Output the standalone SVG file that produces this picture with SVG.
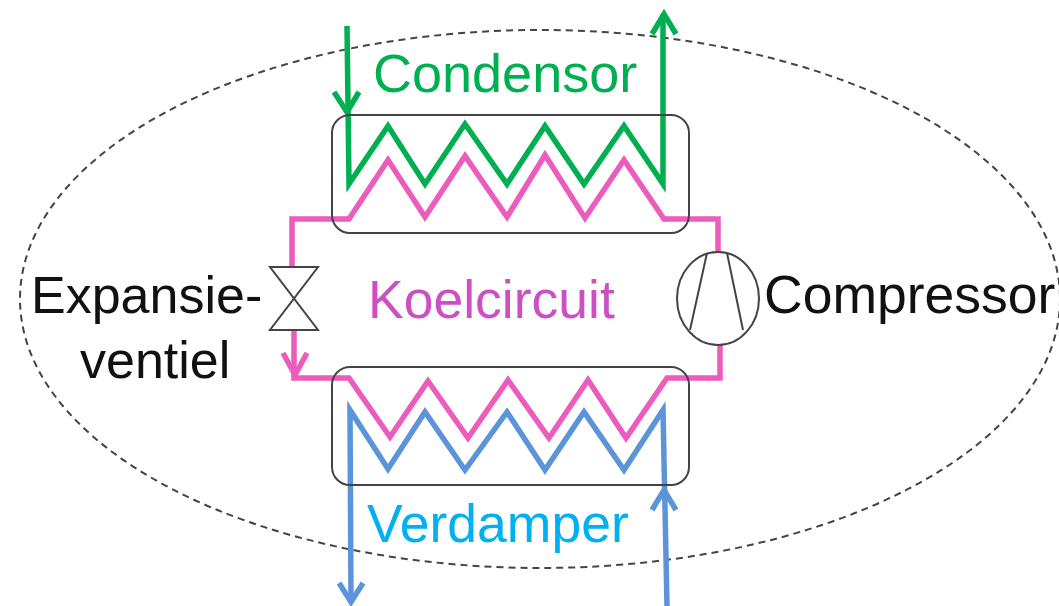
<svg xmlns="http://www.w3.org/2000/svg" width="1059" height="606" viewBox="0 0 1059 606">
<style>
text{font-family:"Liberation Sans",Arial,sans-serif;font-size:53.5px}
.pipe{fill:none;stroke-width:5.5;stroke-linejoin:miter}
.g{stroke:#00b050}.p{stroke:#ec5cbc}.b{stroke:#5b94d9}
.k{fill:none;stroke:#444;stroke-width:2}
</style>
<rect width="1059" height="606" fill="#fff"/>
<g id="boundary"><ellipse cx="540" cy="299" rx="520" ry="269" fill="none" stroke="#444" stroke-width="2" stroke-dasharray="7 5"/></g>
<g id="connectors">
<path class="pipe g" d="M347 26L349 184L388 126L425 184L465 124L507 184L545 126L584 184L624 126L663 184V14"/>
<path class="pipe g" d="M334 92L347 112L359 92M652 34L664 14L676 34"/>
<path class="pipe p" d="M292 267V219H349L388 160L425 217L465 156L507 217L545 155L585 218L624 160L664 219H718V252"/>
<path class="pipe p" d="M294 330V378H349L390 437L428 381L468 438L508 380L549 438L588 380L626 438L667 378H720V345"/>
<path class="pipe p" d="M283 353L295 375L307 353"/>
<path class="pipe b" d="M351 600L350 410L388 469L425 412L465 470L507 412L545 470L584 412L624 470L663 410L667 606"/>
<path class="pipe b" d="M339 583L351 602L363 583M652 510L664 490L676 510"/>
</g>
<g id="condensor"><rect class="k" x="332" y="115" width="357" height="118" rx="18"/><text x="373" y="92" fill="#00b050" style="font-size:54px">Condensor</text></g>
<g id="verdamper"><rect class="k" x="332" y="367" width="357" height="118" rx="18"/><text x="367" y="542" fill="#00b0f0">Verdamper</text></g>
<g id="expansieventiel"><path class="k" d="M270 267H318L270 330H318Z"/><text x="31" y="313" fill="#111" style="font-size:52px">Expansie-</text><text x="80" y="378" fill="#111" style="font-size:52px">ventiel</text></g>
<g id="compressor"><ellipse class="k" cx="718" cy="298.5" rx="41" ry="46.5"/><path class="k" d="M707 253L690 330M727 253L743 330"/><text x="764" y="313" fill="#111">Compressor</text></g>
<g id="koelcircuit"><text x="368" y="318" fill="#cc4fc4">Koelcircuit</text></g>
</svg>
